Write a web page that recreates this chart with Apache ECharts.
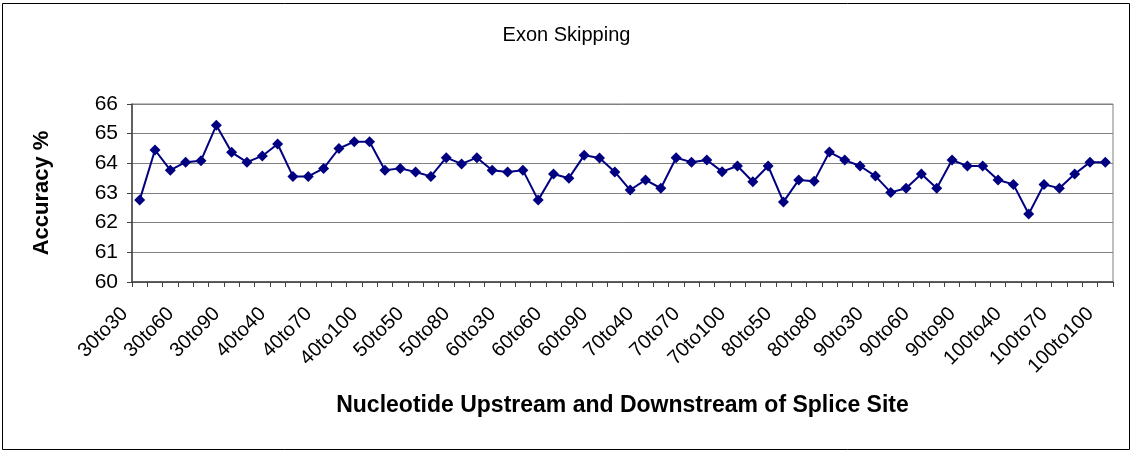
<!DOCTYPE html>
<html>
<head>
<meta charset="utf-8">
<script src="https://cdn.jsdelivr.net/npm/echarts@6/dist/echarts.min.js"></script>
<style>
  html, body { margin: 0; padding: 0; background: #fff; }
  #chart { width: 1133px; height: 451px; }
</style>
</head>
<body>
<div id="chart"></div>
<script>
// Upstream / downstream window sizes (nucleotides)
const upstream = [30, 40, 50, 60, 70, 80, 90, 100];
const downstream = [30, 40, 50, 60, 70, 80, 90, 100];

// Category names like "30to60"
const categories = [];
upstream.forEach(u => downstream.forEach(d => categories.push(u + 'to' + d)));

// Accuracy (%) for each window pair, in category order
const accuracy = [
  62.76, 64.45, 63.77, 64.04, 64.09, 65.28, 64.37, 64.04,
  64.25, 64.65, 63.56, 63.56, 63.83, 64.50, 64.73, 64.73,
  63.77, 63.83, 63.71, 63.56, 64.19, 63.98, 64.19, 63.77,
  63.71, 63.77, 62.76, 63.64, 63.50, 64.27, 64.18, 63.71,
  63.10, 63.44, 63.16, 64.19, 64.04, 64.11, 63.72, 63.91,
  63.38, 63.91, 62.70, 63.44, 63.40, 64.38, 64.11, 63.91,
  63.57, 63.02, 63.16, 63.64, 63.16, 64.11, 63.91, 63.91,
  63.44, 63.29, 62.29, 63.29, 63.16, 63.64, 64.04, 64.04
];

const yTicks = [60, 61, 62, 63, 64, 65, 66];

const font = 'Liberation Sans, Arial, sans-serif';
const chart = echarts.init(document.getElementById('chart'), null, { renderer: 'canvas' });

chart.setOption({
  animation: false,
  backgroundColor: '#ffffff',
  title: {
    text: 'Exon Skipping',
    left: 'center',
    top: 20,
    textStyle: { fontFamily: font, fontSize: 20, fontWeight: 'normal', color: '#000' }
  },
  graphic: [{
    type: 'rect',
    shape: { x: 2.5, y: 3.5, width: 1127, height: 446 },
    style: { fill: 'none', stroke: '#000', lineWidth: 1 },
    silent: true
  }],
  grid: {
    left: 132, right: 20, top: 104, height: 178,
    show: true, borderColor: '#808080', borderWidth: 1
  },
  xAxis: {
    type: 'category',
    data: categories,
    boundaryGap: true,
    name: 'Nucleotide Upstream and Downstream of Splice Site',
    nameLocation: 'middle',
    nameGap: 112,
    nameTextStyle: { fontFamily: font, fontSize: 23, fontWeight: 'bold', color: '#000' },
    axisLine: { lineStyle: { color: '#404040', width: 1.5 } },
    axisTick: { show: true, interval: 0, length: 5, lineStyle: { color: '#404040' } },
    axisLabel: {
      interval: 2,
      rotate: 45,
      margin: 14,
      padding: [0, 21, 0, 0],
      fontFamily: font,
      fontSize: 20,
      color: '#000'
    },
    splitLine: { show: false }
  },
  yAxis: {
    type: 'value',
    min: yTicks[0],
    max: yTicks[yTicks.length - 1],
    interval: 1,
    name: 'Accuracy %',
    nameLocation: 'middle',
    nameGap: 79,
    nameRotate: 90,
    nameTextStyle: { fontFamily: font, fontSize: 22, fontWeight: 'bold', color: '#000' },
    axisLine: { show: true, lineStyle: { color: '#404040', width: 1.5 } },
    axisTick: { show: true, length: 5, lineStyle: { color: '#404040' } },
    axisLabel: { fontFamily: font, fontSize: 21, color: '#000', margin: 14 },
    splitLine: { show: true, lineStyle: { color: '#808080', width: 1 } }
  },
  series: [{
    type: 'line',
    data: accuracy,
    symbol: 'diamond',
    symbolSize: 11,
    showAllSymbol: true,
    itemStyle: { color: '#000080' },
    lineStyle: { color: '#000080', width: 2 }
  }]
});
</script>
</body>
</html>
